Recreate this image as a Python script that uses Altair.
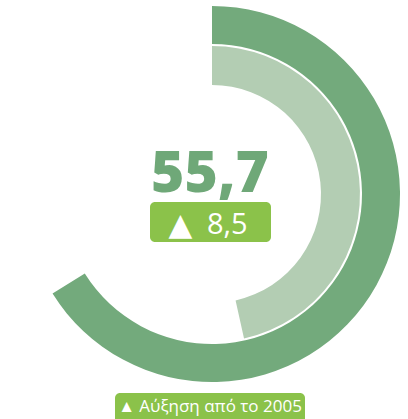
import altair as alt
import pandas as pd

# data
series = ["Σήμερα", "2005"]
arc_start = [0, 0]
arc_end = [55.7, 39.2]          # arc lengths
scale_max = 84.25               # full circle
main_value = ["55,7"]
change_symbol = ["▲"]
change_value = ["8,5"]
footer = ["▲ Αύξηση από το 2005"]

W, H = 408, 419
CX, CY = 212, 194

arcs = pd.DataFrame({"series": series, "start": arc_start, "end": arc_end})
theta_scale = alt.Scale(domain=[0, scale_max], range=[0, 6.283185307])

outer = alt.Chart(arcs[arcs.series == series[0]]).mark_arc(
    x=CX, y=CY, radius=188, radius2=150, color="#73aa7c"
).encode(theta=alt.Theta("start:Q", scale=theta_scale), theta2="end:Q")

inner = alt.Chart(arcs[arcs.series == series[1]]).mark_arc(
    x=CX, y=CY, radius=148, radius2=109, color="#b3cdb3"
).encode(theta=alt.Theta("start:Q", scale=theta_scale), theta2="end:Q")

big = alt.Chart(pd.DataFrame({"t": main_value})).mark_text(
    x=210, y=192, baseline="alphabetic", align="center",
    font="Open Sans", fontWeight=800, fontSize=57, color="#6fa878"
).encode(text="t:N")

badge = alt.Chart(pd.DataFrame({"t": change_value})).mark_rect(
    color="#8bc24a", cornerRadius=5
).encode(x=alt.value(150), x2=alt.value(271), y=alt.value(202), y2=alt.value(242))

badge_sym = alt.Chart(pd.DataFrame({"t": change_symbol})).mark_text(
    x=180.5, y=235, baseline="alphabetic", align="center",
    font="DejaVu Sans", fontSize=31, color="white"
).encode(text="t:N")

badge_txt = alt.Chart(pd.DataFrame({"t": change_value})).mark_text(
    x=207, y=234, baseline="alphabetic", align="left",
    font="Open Sans", fontWeight=500, fontSize=29, color="white"
).encode(text="t:N")

foot = alt.Chart(pd.DataFrame({"t": footer})).mark_rect(
    color="#8bc24a", cornerRadius=5
).encode(x=alt.value(115), x2=alt.value(305), y=alt.value(393), y2=alt.value(430))

foot_txt = alt.Chart(pd.DataFrame({"t": footer})).mark_text(
    x=210, y=412, baseline="alphabetic", align="center",
    font="Open Sans", fontSize=17, color="white"
).encode(text="t:N")

chart = alt.layer(outer, inner, big, badge, badge_sym, badge_txt, foot, foot_txt).properties(
    width=W, height=H, padding=0, autosize=alt.AutoSizeParams(type="none")
).configure_view(stroke=None)

chart.save("out.html", embed_options={"renderer": "svg", "actions": False})
